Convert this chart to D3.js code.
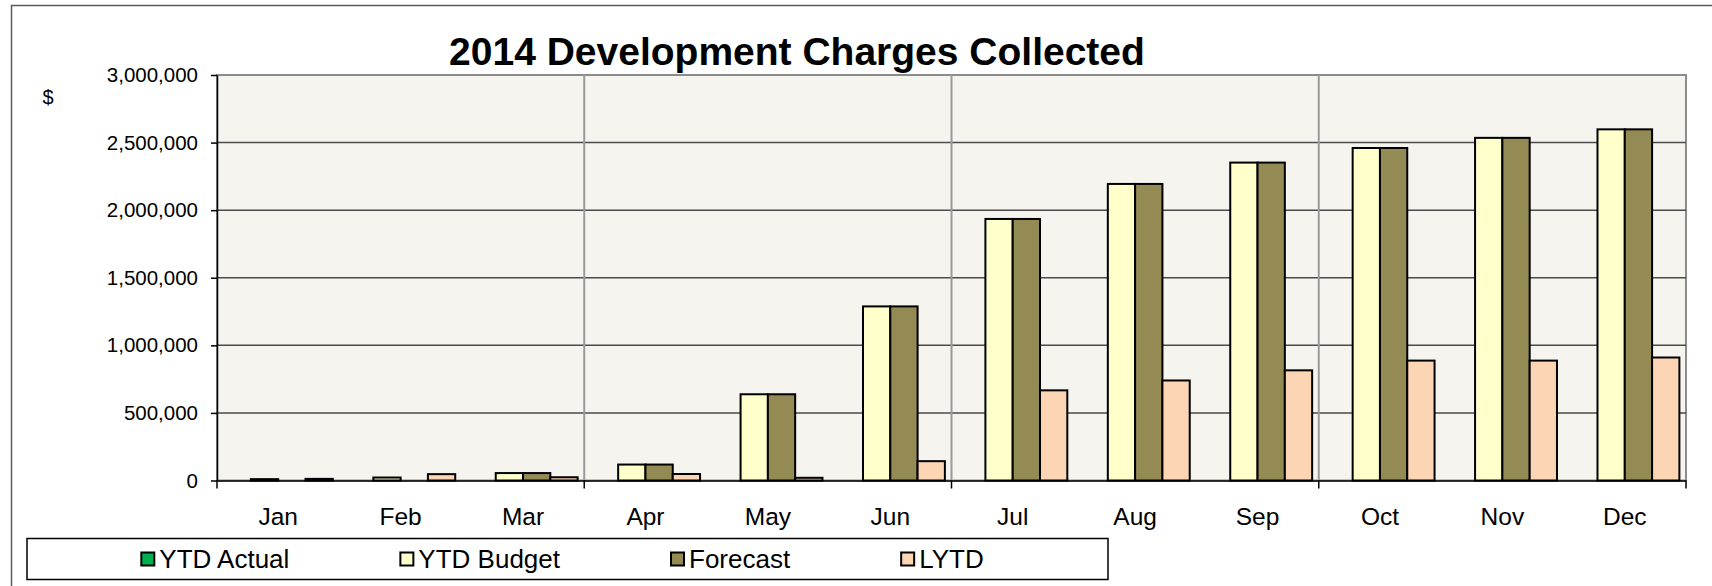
<!DOCTYPE html>
<html>
<head>
<meta charset="utf-8">
<script src="https://cdn.jsdelivr.net/npm/d3@7"></script>
<style>
  html, body { margin: 0; padding: 0; background: #fff; }
  svg { display: block; font-family: "Liberation Sans", Arial, sans-serif; }
</style>
</head>
<body>
<div id="chart"></div>
<script>
// Data
const months = ['Jan', 'Feb', 'Mar', 'Apr', 'May', 'Jun', 'Jul', 'Aug', 'Sep', 'Oct', 'Nov', 'Dec'];
const seriesNames = ['YTD Actual', 'YTD Budget', 'Forecast', 'LYTD'];
const ytdActual = [0, 0, 0, 0, 0, 0, 0, 0, 0, 0, 0, 0];
const ytdBudget = [10000, 22000, 55000, 118000, 638000, 1288000, 1935000, 2194000, 2352000, 2460000, 2535000, 2598000];
const forecast  = [0, 0, 55000, 118000, 638000, 1288000, 1935000, 2194000, 2352000, 2460000, 2535000, 2598000];
const lytd      = [12000, 47000, 24000, 48000, 20000, 143000, 667000, 740000, 815000, 887000, 887000, 910000];
const yTicks = [0, 500000, 1000000, 1500000, 2000000, 2500000, 3000000];
const colors = ['#00b050', '#ffffcc', '#948a54', '#fcd5b5'];

const width = 1712;
const height = 586;
const plot = {left: 217, right: 1686, top: 75, bottom: 480.5};

const svg = d3.select('#chart').append('svg')
  .attr('width', width)
  .attr('height', height);

// outer chart frame (runs off the right and bottom)
svg.append('rect')
  .attr('x', 11.5).attr('y', 5.5)
  .attr('width', 1800).attr('height', 700)
  .attr('fill', '#fff')
  .attr('stroke', '#5a5a5a')
  .attr('stroke-width', 1.5);

const x0 = d3.scaleBand().domain(months).range([plot.left, plot.right]).padding(0);
const pad = x0.bandwidth() * 0.054;
const x1 = d3.scaleBand().domain(seriesNames).range([pad, x0.bandwidth() - pad]).padding(0);
const y = d3.scaleLinear().domain([0, 3000000]).range([plot.bottom, plot.top]);

// plot background
svg.append('rect')
  .attr('x', plot.left).attr('y', plot.top)
  .attr('width', plot.right - plot.left)
  .attr('height', plot.bottom - plot.top)
  .attr('fill', '#f5f4ef')
  .attr('stroke', '#8c8c8c')
  .attr('stroke-width', 2);

// horizontal gridlines
svg.append('g').selectAll('line')
  .data(yTicks.slice(1, -1))
  .join('line')
  .attr('x1', plot.left).attr('x2', plot.right)
  .attr('y1', d => y(d)).attr('y2', d => y(d))
  .attr('stroke', '#4a4a4a')
  .attr('stroke-width', 1.5);

// vertical lines at each quarter
const quarterStarts = ['Apr', 'Jul', 'Oct'];
svg.append('g').selectAll('line')
  .data(quarterStarts)
  .join('line')
  .attr('x1', d => x0(d)).attr('x2', d => x0(d))
  .attr('y1', plot.top).attr('y2', plot.bottom)
  .attr('stroke', '#9a9a9a')
  .attr('stroke-width', 2);

// bars
const seriesValues = [ytdActual, ytdBudget, forecast, lytd];
const barData = [];
months.forEach((m, i) => {
  seriesNames.forEach((s, j) => {
    const v = seriesValues[j][i];
    if (v > 0) barData.push({month: m, series: s, value: v, color: colors[j]});
  });
});

svg.append('g').selectAll('rect')
  .data(barData)
  .join('rect')
  .attr('x', d => x0(d.month) + x1(d.series))
  .attr('y', d => y(d.value))
  .attr('width', x1.bandwidth())
  .attr('height', d => y(0) - y(d.value))
  .attr('fill', d => d.color)
  .attr('stroke', '#000')
  .attr('stroke-width', 2);

// y axis
const yAxis = d3.axisLeft(y)
  .tickValues(yTicks)
  .tickFormat(d3.format(','))
  .tickSize(6)
  .tickSizeOuter(0)
  .tickPadding(13);

const gy = svg.append('g')
  .attr('transform', 'translate(' + plot.left + ',0)')
  .call(yAxis);
gy.select('.domain').attr('stroke', '#000').attr('stroke-width', 1.5);
gy.selectAll('.tick line').attr('stroke', '#000').attr('stroke-width', 1.5);
gy.selectAll('.tick text')
  .attr('font-size', 20.5)
  .attr('fill', '#000')
  .attr('font-family', '"Liberation Sans", Arial, sans-serif');

// x axis
const xAxis = d3.axisBottom(x0).tickSize(0).tickPadding(27);
const gx = svg.append('g')
  .attr('transform', 'translate(0,' + plot.bottom + ')')
  .call(xAxis);
gx.select('.domain').attr('stroke', '#000').attr('stroke-width', 1.5);
gx.selectAll('.tick text')
  .attr('font-size', 24.5)
  .attr('fill', '#000')
  .attr('font-family', '"Liberation Sans", Arial, sans-serif');

// quarter tick marks under the x axis
const qTicks = ['Jan', 'Apr', 'Jul', 'Oct'].map(m => x0(m)).concat([plot.right]);
gx.append('g').selectAll('line')
  .data(qTicks)
  .join('line')
  .attr('x1', d => d).attr('x2', d => d)
  .attr('y1', 0).attr('y2', 8)
  .attr('stroke', '#000')
  .attr('stroke-width', 1.5);

// "$" unit label
svg.append('text')
  .attr('x', 48).attr('y', 104)
  .attr('text-anchor', 'middle')
  .attr('font-size', 20)
  .text('$');

// title
svg.append('text')
  .attr('x', 797).attr('y', 65)
  .attr('text-anchor', 'middle')
  .attr('font-size', 39)
  .attr('font-weight', 'bold')
  .text('2014 Development Charges Collected');

// legend
const legendBox = {x: 27, y: 538.5, w: 1081, h: 41};
svg.append('rect')
  .attr('x', legendBox.x).attr('y', legendBox.y)
  .attr('width', legendBox.w).attr('height', legendBox.h)
  .attr('fill', '#fff')
  .attr('stroke', '#000')
  .attr('stroke-width', 1.5);

const legend = svg.append('g');
const sw = 13;
const gap = 111;
const items = legend.selectAll('g')
  .data(seriesNames)
  .join('g');
items.append('rect')
  .attr('width', sw).attr('height', sw)
  .attr('y', -sw / 2)
  .attr('fill', (d, i) => colors[i])
  .attr('stroke', '#000')
  .attr('stroke-width', 2);
items.append('text')
  .attr('x', sw + 5)
  .attr('y', 9)
  .attr('font-size', 26)
  .text(d => d);

let cursor = 0;
const offsets = [];
items.each(function() {
  offsets.push(cursor);
  cursor += sw + 5 + d3.select(this).select('text').node().getComputedTextLength() + gap;
});
const total = cursor - gap;
const startX = legendBox.x + (legendBox.w - total) / 2 - 5;
items.attr('transform', (d, i) => 'translate(' + (startX + offsets[i]) + ',' + (legendBox.y + legendBox.h / 2) + ')');
</script>
</body>
</html>
